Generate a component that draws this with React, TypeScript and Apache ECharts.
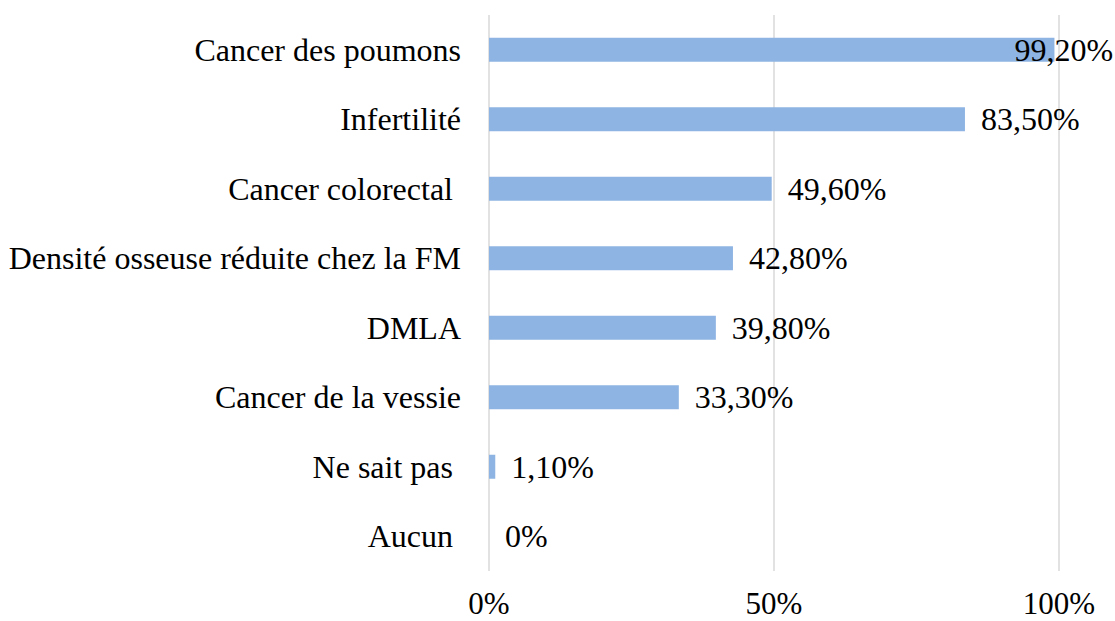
import React, { useEffect, useRef } from "react";
import * as echarts from "echarts";

const categories = [
  "Cancer des poumons",
  "Infertilité",
  "Cancer colorectal ",
  "Densité osseuse réduite chez la FM",
  "DMLA",
  "Cancer de la vessie",
  "Ne sait pas ",
  "Aucun ",
];
const values = [99.2, 83.5, 49.6, 42.8, 39.8, 33.3, 1.1, 0];
const valueLabels = ["99,20%", "83,50%", "49,60%", "42,80%", "39,80%", "33,30%", "1,10%", "0%"];
const xTicks = [0, 50, 100];

const FONT = "'Liberation Serif', 'Times New Roman', serif";

export default function App() {
  const ref = useRef<HTMLDivElement>(null);
  useEffect(() => {
    if (!ref.current) return;
    const chart = echarts.init(ref.current, null, { renderer: "svg" });
    const cats = [...categories].reverse();
    const vals = [...values].reverse();
    const labs = [...valueLabels].reverse();
    chart.setOption({
      animation: false,
      grid: { left: 489, right: 56, top: 15, bottom: 50, containLabel: false },
      xAxis: {
        type: "value",
        min: 0,
        max: 100,
        interval: 50,
        axisLine: { show: false },
        axisTick: { show: false },
        splitLine: { show: true, lineStyle: { color: "#d9d9d9", width: 1.5 } },
        axisLabel: {
          color: "#000",
          fontFamily: FONT,
          fontSize: 31,
          lineHeight: 24,
          margin: 20,
          formatter: (v: number) => (xTicks.includes(v) ? v + "%" : ""),
        },
      },
      yAxis: {
        type: "category",
        data: cats,
        axisLine: { show: false },
        axisTick: { show: false },
        axisLabel: {
          color: "#000",
          fontFamily: FONT,
          fontSize: 32,
          margin: 28,
        },
      },
      series: [
        {
          type: "bar",
          barWidth: 24,
          itemStyle: { color: "#8EB4E3" },
          data: vals.map((v, i) => {
            const item: any = { value: v };
            if (i === vals.length - 1) {
              item.label = { position: "right", distance: 0, offset: [-40, 0] };
            }
            return item;
          }),
          label: {
            show: true,
            position: "right",
            distance: 16,
            color: "#000",
            fontFamily: FONT,
            fontSize: 32,
            formatter: (p: any) => labs[p.dataIndex],
          },
        },
      ],
    });
    return () => chart.dispose();
  }, []);
  return (
    <div
      ref={ref}
      style={{ position: "fixed", left: 0, top: 0, width: 1115, height: 621, background: "#fff" }}
    />
  );
}
